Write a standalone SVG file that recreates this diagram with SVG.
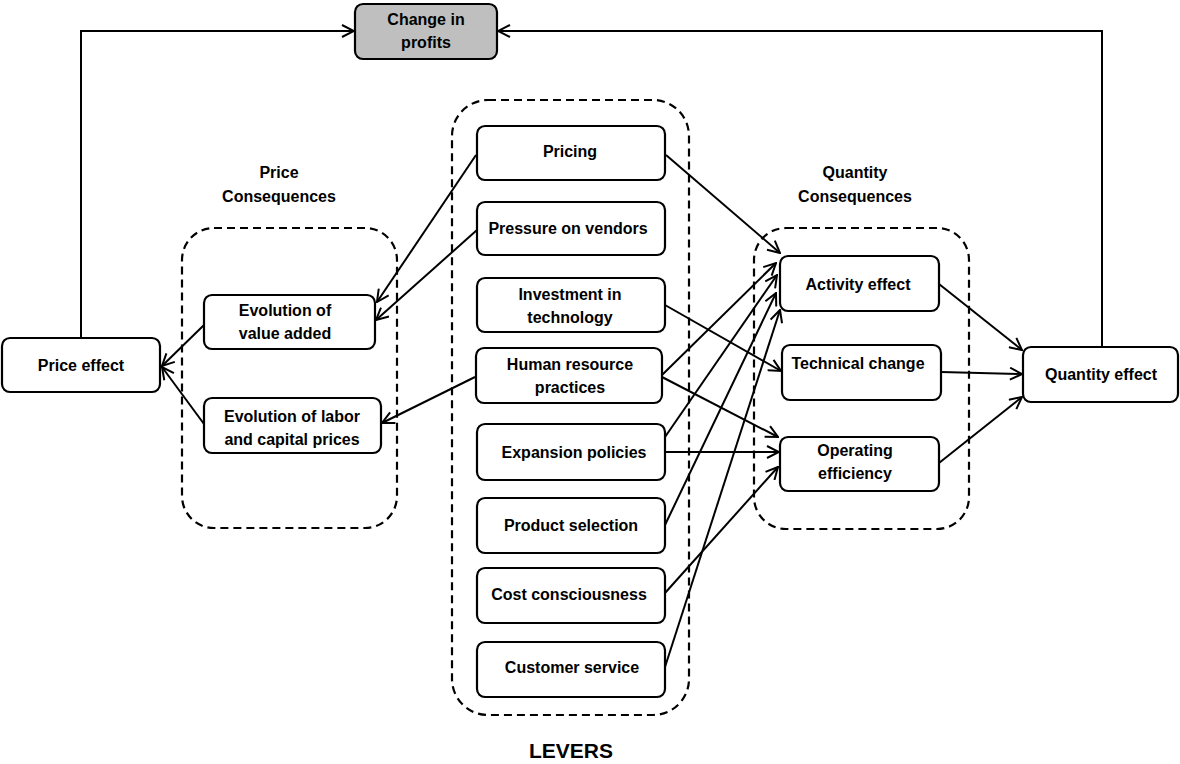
<svg xmlns="http://www.w3.org/2000/svg" width="1180" height="764" viewBox="0 0 1180 764">
<defs>
<marker id="arr" viewBox="0 0 14 14" refX="13" refY="7" markerWidth="14" markerHeight="14" markerUnits="userSpaceOnUse" orient="auto">
<path d="M1,1 L13,7 L1,13" fill="none" stroke="#000" stroke-width="2"/>
</marker>
<style>
.box{fill:#fff;stroke:#000;stroke-width:2.2}
.grey{fill:#bfbfbf;stroke:#000;stroke-width:2.2}
.dash{fill:none;stroke:#000;stroke-width:2.2;stroke-dasharray:8 5}
.t{font-family:"Liberation Sans",Arial,sans-serif;font-weight:bold;font-size:16px;fill:#000;text-anchor:middle;dominant-baseline:central}
.big{font-size:21px}
.c{fill:none;stroke:#000;stroke-width:2;marker-end:url(#arr)}
</style>
</defs>
<rect width="1180" height="764" fill="#fff"/>

<g id="groups">
<rect class="dash" x="182" y="228" width="215" height="300" rx="32"/>
<rect class="dash" x="452" y="100" width="237" height="615" rx="36"/>
<rect class="dash" x="754" y="228" width="215" height="301" rx="32"/>
<text class="t" x="279" y="172">Price</text>
<text class="t" x="279" y="196">Consequences</text>
<text class="t" x="855" y="172">Quantity</text>
<text class="t" x="855" y="196">Consequences</text>
<text class="t big" x="571" y="750">LEVERS</text>
</g>

<g id="connectors">
<path class="c" d="M81,338 V31 H354"/>
<path class="c" d="M1102,347 V31 H498"/>
<path class="c" d="M476,155 L377,302"/>
<path class="c" d="M477,230 L376,320"/>
<path class="c" d="M475,377 L382,423"/>
<path class="c" d="M204,325 L162,366"/>
<path class="c" d="M204,424 L162,367"/>
<path class="c" d="M666,155 L780,253"/>
<path class="c" d="M662,375 L776,263"/>
<path class="c" d="M665,437 L777,275"/>
<path class="c" d="M665,525 L776,293"/>
<path class="c" d="M665,667 L780,310"/>
<path class="c" d="M665,305 L781,371"/>
<path class="c" d="M662,377 L778,437"/>
<path class="c" d="M665,452 L779,452"/>
<path class="c" d="M665,593 L778,467"/>
<path class="c" d="M939,284 L1022,350"/>
<path class="c" d="M941,372 L1022,374"/>
<path class="c" d="M939,463 L1022,397"/>
</g>

<g id="change-in-profits">
<rect class="grey" x="355" y="4" width="142" height="55" rx="8"/>
<text class="t" x="426" y="19">Change in</text>
<text class="t" x="426" y="42">profits</text>
</g>
<g id="price-effect">
<rect class="box" x="2" y="338" width="158" height="54" rx="8"/>
<text class="t" x="81" y="365">Price effect</text>
</g>
<g id="evolution-value-added">
<rect class="box" x="204" y="295" width="171" height="54" rx="8"/>
<text class="t" x="285" y="310">Evolution of</text>
<text class="t" x="285" y="333">value added</text>
</g>
<g id="evolution-labor-capital">
<rect class="box" x="204" y="398" width="177" height="55" rx="8"/>
<text class="t" x="292" y="416">Evolution of labor</text>
<text class="t" x="292" y="439">and capital prices</text>
</g>

<g id="pricing">
<rect class="box" x="477" y="126" width="188" height="54" rx="8"/>
<text class="t" x="570" y="151">Pricing</text>
</g>
<g id="pressure-on-vendors">
<rect class="box" x="477" y="202" width="188" height="53" rx="8"/>
<text class="t" x="568" y="228">Pressure on vendors</text>
</g>
<g id="investment-in-technology">
<rect class="box" x="477" y="278" width="188" height="54" rx="8"/>
<text class="t" x="570" y="294">Investment in</text>
<text class="t" x="570" y="317">technology</text>
</g>
<g id="human-resource-practices">
<rect class="box" x="476" y="348" width="186" height="55" rx="8"/>
<text class="t" x="570" y="364">Human resource</text>
<text class="t" x="570" y="387">practices</text>
</g>
<g id="expansion-policies">
<rect class="box" x="477" y="424" width="188" height="56" rx="8"/>
<text class="t" x="574" y="452">Expansion policies</text>
</g>
<g id="product-selection">
<rect class="box" x="477" y="498" width="188" height="55" rx="8"/>
<text class="t" x="571" y="525">Product selection</text>
</g>
<g id="cost-consciousness">
<rect class="box" x="477" y="568" width="188" height="55" rx="8"/>
<text class="t" x="569" y="594">Cost consciousness</text>
</g>
<g id="customer-service">
<rect class="box" x="477" y="642" width="188" height="55" rx="8"/>
<text class="t" x="572" y="667">Customer service</text>
</g>

<g id="activity-effect">
<rect class="box" x="780" y="256" width="159" height="55" rx="8"/>
<text class="t" x="858" y="284">Activity effect</text>
</g>
<g id="technical-change">
<rect class="box" x="782" y="345" width="159" height="55" rx="8"/>
<text class="t" x="858" y="363">Technical change</text>
</g>
<g id="operating-efficiency">
<rect class="box" x="780" y="437" width="159" height="54" rx="8"/>
<text class="t" x="855" y="450">Operating</text>
<text class="t" x="855" y="473">efficiency</text>
</g>
<g id="quantity-effect">
<rect class="box" x="1023" y="347" width="155" height="55" rx="8"/>
<text class="t" x="1101" y="374">Quantity effect</text>
</g>
</svg>
